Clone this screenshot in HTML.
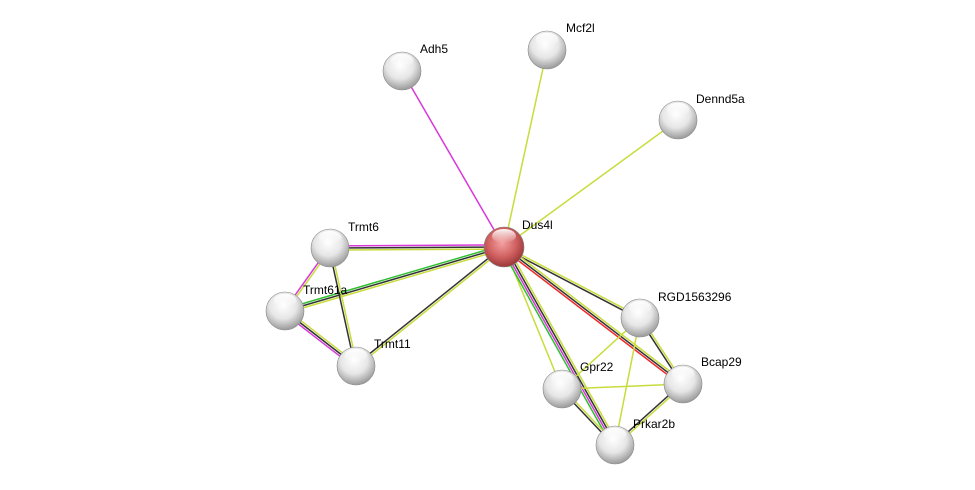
<!DOCTYPE html>
<html><head><meta charset="utf-8"><style>
html,body{margin:0;padding:0;background:#fff;}
svg{display:block;}
text{font-family:"Liberation Sans",sans-serif;font-size:12px;fill:#000;}
</style></head><body>
<svg id="s" width="975" height="490" viewBox="0 0 975 490" xmlns="http://www.w3.org/2000/svg">
<defs>
<radialGradient id="g" cx="45%" cy="35%" r="65%">
<stop offset="0" stop-color="#ffffff"/><stop offset="0.55" stop-color="#e6e6e6"/><stop offset="1" stop-color="#9a9a9a"/>
</radialGradient>
<radialGradient id="r" cx="45%" cy="40%" r="65%">
<stop offset="0" stop-color="#f4a0a0"/><stop offset="0.55" stop-color="#d06060"/><stop offset="1" stop-color="#903030"/>
</radialGradient>
<linearGradient id="hl" x1="0" y1="0" x2="0" y2="1">
<stop offset="0" stop-color="#fff" stop-opacity="0.95"/><stop offset="1" stop-color="#fff" stop-opacity="0"/>
</linearGradient>
</defs>
<g id="edges"></g>
<g id="nodes"></g>
</svg>
<script>
var N={
Dus4l:[504,247,"Dus4l",522,229],
Adh5:[402,71,"Adh5",420,53],
Mcf2l:[547,50,"Mcf2l",566,32],
Dennd5a:[678,120,"Dennd5a",696,103],
Trmt6:[330,248,"Trmt6",348,231],
Trmt61a:[285,311,"Trmt61a",303,294],
Trmt11:[356,366,"Trmt11",374,348],
RGD:[640,318,"RGD1563296",658,301],
Bcap29:[683,384,"Bcap29",701,366],
Gpr22:[562,389,"Gpr22",580,371],
Prkar2b:[615,445,"Prkar2b",633,428]};
var Y="#c8dc3c",M="#d838d8",G="#30c030",K="#333",R="#f02828";
var E=[
["Dus4l","Adh5",[M]],["Dus4l","Mcf2l",[Y]],["Dus4l","Dennd5a",[Y]],
["Dus4l","Trmt6",[M,K,Y]],["Dus4l","Trmt61a",[G,K,Y]],["Dus4l","Trmt11",[K,Y]],
["Dus4l","RGD",[K,Y]],["Dus4l","Bcap29",[R,K,Y]],["Dus4l","Gpr22",[Y]],
["Dus4l","Prkar2b",[G,M,K,Y]],
["Trmt6","Trmt61a",[M,Y]],["Trmt6","Trmt11",[K,Y]],["Trmt61a","Trmt11",[M,K,Y]],
["RGD","Bcap29",[K,Y]],["RGD","Gpr22",[Y]],["RGD","Prkar2b",[Y]],
["Gpr22","Bcap29",[Y]],["Gpr22","Prkar2b",[K,Y]],["Bcap29","Prkar2b",[K,Y]]];
var ns="http://www.w3.org/2000/svg",eg=document.getElementById("edges"),ng=document.getElementById("nodes");
E.forEach(function(e){var a=N[e[0]],b=N[e[1]],dx=b[0]-a[0],dy=b[1]-a[1],L=Math.hypot(dx,dy),px=dy/L,py=-dx/L,n=e[2].length;
e[2].forEach(function(c,i){var o=(i-(n-1)/2)*2.1;var l=document.createElementNS(ns,"line");
l.setAttribute("x1",a[0]+px*o);l.setAttribute("y1",a[1]+py*o);l.setAttribute("x2",b[0]+px*o);l.setAttribute("y2",b[1]+py*o);
l.setAttribute("stroke",c);l.setAttribute("stroke-width","1.5");eg.appendChild(l);});});
for(var k in N){var v=N[k];var rr=k=="Dus4l"?20:19;
var c=document.createElementNS(ns,"circle");c.setAttribute("cx",v[0]);c.setAttribute("cy",v[1]);c.setAttribute("r",rr);
c.setAttribute("fill",k=="Dus4l"?"url(#r)":"url(#g)");c.setAttribute("stroke","#888");c.setAttribute("stroke-width","0.6");ng.appendChild(c);
var h=document.createElementNS(ns,"ellipse");h.setAttribute("cx",v[0]);h.setAttribute("cy",v[1]-rr*0.55);h.setAttribute("rx",rr*0.6);h.setAttribute("ry",rr*0.35);
h.setAttribute("fill","url(#hl)");ng.appendChild(h);
var t=document.createElementNS(ns,"text");t.setAttribute("x",v[3]);t.setAttribute("y",v[4]);t.textContent=v[2];ng.appendChild(t);}
</script>
</body></html>
